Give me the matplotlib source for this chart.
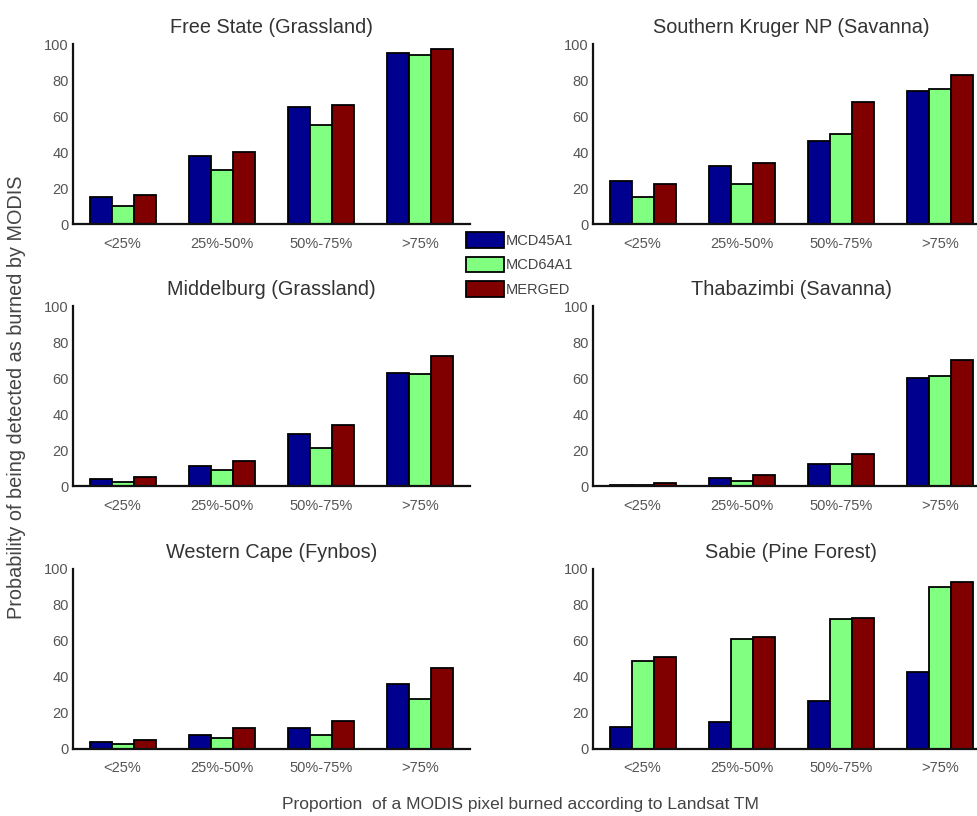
import numpy as np
import matplotlib
matplotlib.use("Agg")
import matplotlib.pyplot as plt
from matplotlib.patches import Patch

#data
categories = ["<25%", "25%-50%", "50%-75%", ">75%"]
series = ["MCD45A1", "MCD64A1", "MERGED"]
colors = ["#00008F", "#80FF80", "#800000"]

titles = ["Free State (Grassland)", "Southern Kruger NP (Savanna)",
          "Middelburg (Grassland)", "Thabazimbi (Savanna)",
          "Western Cape (Fynbos)", "Sabie (Pine Forest)"]

free_state = [[15, 38, 65, 95], [10, 30, 55, 94], [16, 40, 66, 97]]
kruger = [[24, 32, 46, 74], [15, 22, 50, 75], [22, 34, 68, 83]]
middelburg = [[4, 11, 29, 63], [2, 9, 21, 62], [5, 14, 34, 72]]
thabazimbi = [[0.7, 4.3, 12, 60], [0.5, 2.6, 12, 61], [1.7, 6, 18, 70]]
western_cape = [[3.7, 7.6, 11.5, 36], [2.6, 6, 8, 28], [4.8, 11.4, 15.7, 45]]
sabie = [[12, 15, 26.5, 43], [49, 61, 72, 90], [51, 62.5, 73, 93]]

panels = [free_state, kruger, middelburg, thabazimbi, western_cape, sabie]

#plot config
plt.rcParams['font.family'] = ['Liberation Sans', 'DejaVu Sans']

W, H = 978, 816
fig = plt.figure(figsize=(W / 100, H / 100), dpi=100)

lefts = [73, 593]
bottoms = [224, 486, 749]
ax_w, ax_h = 397, 180

x = np.arange(len(categories))
bw = 0.222

for i, (title, data) in enumerate(zip(titles, panels)):
    row, col = divmod(i, 2)
    ax = fig.add_axes([lefts[col] / W, 1 - bottoms[row] / H, ax_w / W, ax_h / H])
    for j in range(3):
        ax.bar(x + (j - 1) * bw, data[j], width=bw, color=colors[j],
               edgecolor="black", linewidth=1.3)
    ax.set_xlim(-0.5, 3.5)
    ax.set_ylim(0, 100)
    ax.set_yticks(range(0, 101, 20))
    ax.set_xticks(x)
    ax.set_xticklabels(categories)
    ax.tick_params(length=0, labelsize=10.5, labelcolor="#555555")
    ax.tick_params(axis="x", pad=9)
    ax.tick_params(axis="y", pad=3)
    for s in ["top", "right"]:
        ax.spines[s].set_visible(False)
    for s in ["left", "bottom"]:
        ax.spines[s].set_linewidth(1.6)
        ax.spines[s].set_color("#111111")
    ax.set_title(title, fontsize=14.3, color="#333333", pad=8)

handles = [Patch(facecolor=c, edgecolor="black", linewidth=1.3, label=s)
           for c, s in zip(colors, series)]
fig.legend(handles=handles, loc="upper left", bbox_to_anchor=(463 / W, 1 - 229 / H),
           frameon=False, fontsize=10.5, handlelength=2.6, handleheight=1.3,
           handletextpad=0.1, labelspacing=0.6, borderaxespad=0, borderpad=0.2,
           labelcolor="#444444")

fig.text(17 / W, 1 - 397 / H, "Probability of being detected as burned by MODIS",
         rotation=90, ha="center", va="center", fontsize=14.3, color="#444444")
fig.text(520 / W, 1 - 805 / H, "Proportion  of a MODIS pixel burned according to Landsat TM",
         ha="center", va="center", fontsize=12.5, color="#444444")

fig.savefig("out.png", dpi=100)
